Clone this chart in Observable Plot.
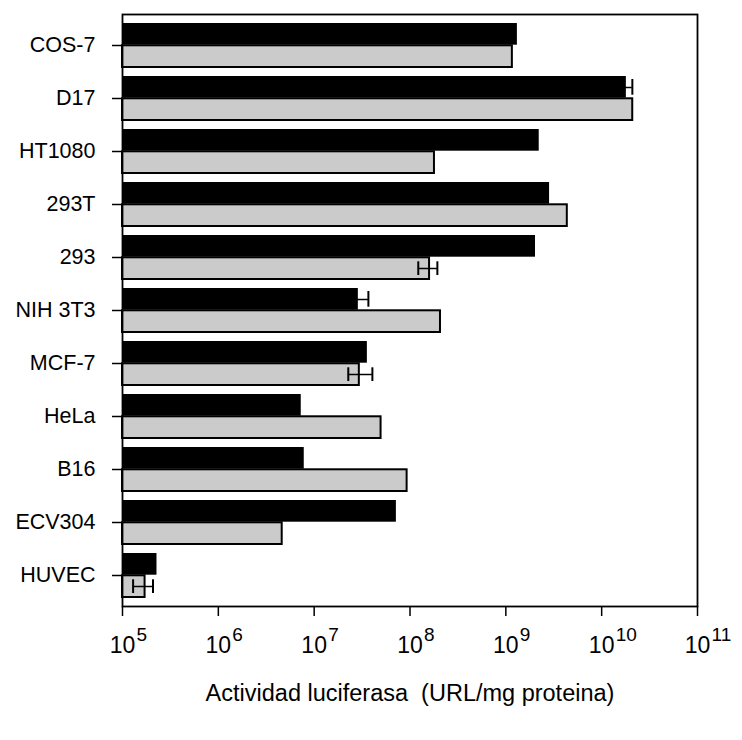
<!DOCTYPE html>
<html>
<head>
<meta charset="utf-8">
<script src="https://cdn.jsdelivr.net/npm/d3@7"></script>
<script src="https://cdn.jsdelivr.net/npm/@observablehq/plot@0.6"></script>
<style>
  html, body { margin: 0; padding: 0; background: #fff; }
</style>
</head>
<body>
<div id="chart"></div>
<script>
// Cell lines (top to bottom)
const lines = ["COS-7", "D17", "HT1080", "293T", "293", "NIH 3T3", "MCF-7", "HeLa", "B16", "ECV304", "HUVEC"];
// Luciferase activity (URL/mg protein), black series (upper bar)
const blackValues = [1.32e9, 1.81e10, 2.23e9, 2.86e9, 2.04e9, 2.89e7, 3.59e7, 7.33e6, 7.88e6, 7.21e7, 2.29e5];
// Grey series (lower bar)
const grayValues = [1.17e9, 2.11e10, 1.80e8, 4.38e9, 1.60e8, 2.08e8, 2.96e7, 4.99e7, 9.33e7, 4.64e6, 1.72e5];

// Error bars
const errLines = ["D17", "293", "NIH 3T3", "MCF-7", "HUVEC"];
const errSeries = ["black", "gray", "black", "gray", "gray"];
const errLow = [1.57e10, 1.22e8, 2.27e7, 2.27e7, 1.29e5];
const errHigh = [2.09e10, 1.93e8, 3.68e7, 4.05e7, 2.08e5];

// Axis
const xDomain = [1e5, 1e11];
const tickExponents = [5, 6, 7, 8, 9, 10, 11];
const xTitle = "Actividad luciferasa\u00a0 (URL/mg proteina)";

const rows = lines.map((line, i) => ({line, black: blackValues[i], gray: grayValues[i]}));
const errs = errLines.map((line, i) => ({line, series: errSeries[i], lo: errLow[i], hi: errHigh[i]}));
const errBlack = errs.filter(d => d.series === "black");
const errGray = errs.filter(d => d.series === "gray");
const ticks = tickExponents.map(e => ({v: Math.pow(10, e), e}));

const half = 22.3;
const font = "'Liberation Sans', Arial, Helvetica, sans-serif";

const chart = Plot.plot({
  width: 742,
  height: 740,
  marginTop: 14,
  marginBottom: 134,
  marginLeft: 122,
  marginRight: 45,
  style: {fontFamily: font, fontSize: "21px", color: "black", background: "white"},
  x: {type: "log", domain: xDomain},
  y: {type: "band", domain: lines, paddingInner: 0.17, paddingOuter: 0.085},
  marks: [
    Plot.barX(rows, {y: "line", x1: () => xDomain[0], x2: "black", fill: "black", insetBottom: half}),
    Plot.barX(rows, {y: "line", x1: () => xDomain[0], x2: "gray", fill: "#cbcbcb", stroke: "black", strokeWidth: 2, insetTop: half}),
    // error bars
    Plot.ruleY(errBlack, {y: "line", x1: "lo", x2: "hi", dy: -11, stroke: "black", strokeWidth: 1.5}),
    Plot.tickX(errBlack, {y: "line", x: "lo", insetTop: 4, insetBottom: half + 4, stroke: "black", strokeWidth: 2}),
    Plot.tickX(errBlack, {y: "line", x: "hi", insetTop: 3, insetBottom: half + 3, stroke: "black", strokeWidth: 2}),
    Plot.ruleY(errGray, {y: "line", x1: "lo", x2: "hi", dy: 11, stroke: "black", strokeWidth: 1.5}),
    Plot.tickX(errGray, {y: "line", x: "lo", insetTop: half + 4, insetBottom: 4, stroke: "black", strokeWidth: 2}),
    Plot.tickX(errGray, {y: "line", x: "hi", insetTop: half + 4, insetBottom: 4, stroke: "black", strokeWidth: 2}),
    Plot.frame({stroke: "black", strokeWidth: 1.8}),
    Plot.axisY({tickSize: 10, tickPadding: 17, fontSize: 21.5, label: null, strokeWidth: 1.5}),
    Plot.axisX({ticks: ticks.map(d => d.v), tickSize: 10, tickFormat: () => "", label: null, strokeWidth: 1.5}),
    // tick labels 10^n
    Plot.text(ticks, {x: "v", text: () => "10", frameAnchor: "bottom", lineAnchor: "bottom", dy: 46, fontSize: 23, textAnchor: "middle"}),
    Plot.text(ticks, {x: "v", text: d => String(d.e), frameAnchor: "bottom", lineAnchor: "bottom", dy: 34, dx: 14, fontSize: 19, textAnchor: "start"}),
    Plot.text([xTitle], {text: d => d, frameAnchor: "bottom", lineAnchor: "bottom", dy: 94, fontSize: 23.5})
  ]
});
document.getElementById("chart").appendChild(chart);
</script>
</body>
</html>
